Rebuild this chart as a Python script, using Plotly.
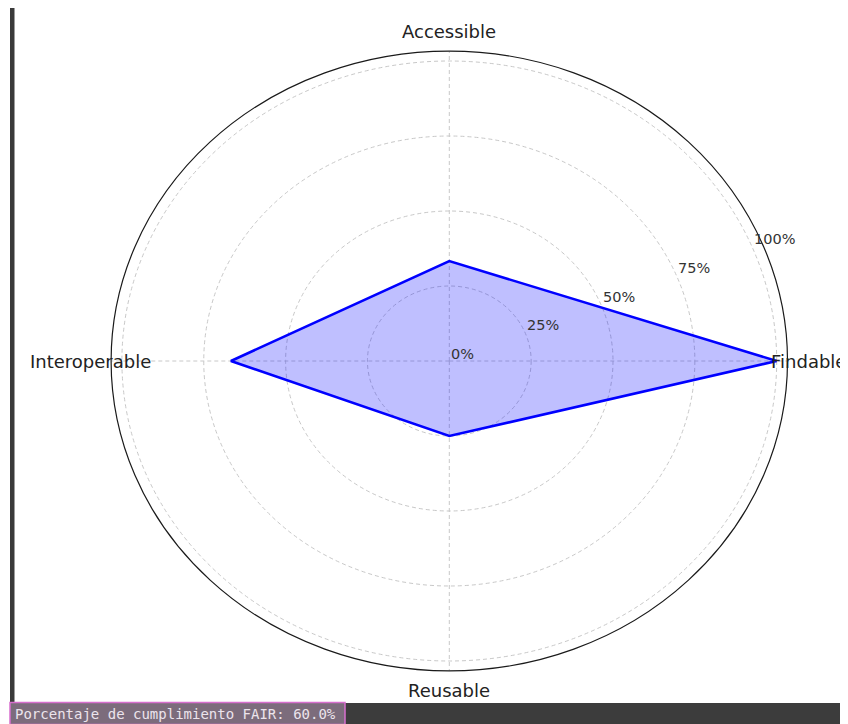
import math
import plotly.graph_objects as go

# ---- data ----
categories = ["Findable", "Accessible", "Interoperable", "Reusable"]
values = [100, 33.3, 66.7, 25]
radial_ticks = [0, 25, 50, 75, 100]
radial_tick_labels = ["0%", "25%", "50%", "75%", "100%"]
footer_text = "Porcentaje de cumplimiento FAIR: 60.0%"

# ---- layout constants ----
W, H = 848, 724
OFF = 8  # page body margin of the browser
R_MAX = 103.3
R_LABEL = 109.7
RLABEL_ANGLE = 22.5

n = len(categories)
angles = [360.0 * i / n for i in range(n)]


def pol(r, deg):
    t = math.radians(deg)
    return r * math.cos(t), r * math.sin(t)


def px(x):
    return (x - OFF) / W


def py(y):
    return 1 - (y - OFF) / H


xs, ys = [], []
for v, a in zip(values, angles):
    x, y = pol(v, a)
    xs.append(x)
    ys.append(y)
xs.append(xs[0])
ys.append(ys[0])

fig = go.Figure()
fig.add_trace(go.Scatter(
    x=xs, y=ys, mode="lines", fill="toself",
    fillcolor="rgba(0,0,255,0.25)",
    line=dict(color="#0000ff", width=2.6),
    hoverinfo="skip", showlegend=False,
))

shapes = []
grid_style = dict(color="#c8c8c8", width=1, dash="4px,3px")
for r in radial_ticks[1:]:
    shapes.append(dict(type="circle", xref="x", yref="y", x0=-r, x1=r, y0=-r, y1=r,
                       line=grid_style, layer="below"))
for a in angles:
    x, y = pol(R_MAX, a)
    shapes.append(dict(type="line", xref="x", yref="y", x0=0, y0=0, x1=x, y1=y,
                       line=grid_style, layer="below"))
shapes.append(dict(type="circle", xref="x", yref="y", x0=-R_MAX, x1=R_MAX, y0=-R_MAX, y1=R_MAX,
                   line=dict(color="#1a1a1a", width=1.2), layer="above"))

# window chrome: left bar, bottom bar and output box
shapes.append(dict(type="rect", xref="paper", yref="paper",
                   x0=px(10), x1=px(14.5), y0=py(703), y1=1.0,
                   fillcolor="#3a3a3a", line=dict(width=0), layer="above"))
shapes.append(dict(type="rect", xref="paper", yref="paper",
                   x0=px(345), x1=1, y0=0, y1=py(703),
                   fillcolor="#3c3c3c", line=dict(width=0), layer="above"))
shapes.append(dict(type="rect", xref="paper", yref="paper",
                   x0=px(10), x1=px(345), y0=py(724.5), y1=py(702.5),
                   fillcolor="#7c6c7c", line=dict(color="#d76fce", width=1.5), layer="above"))

annotations = []
for c, a in zip(categories, angles):
    x, y = pol(R_LABEL, a)
    annotations.append(dict(x=x, y=y, xref="x", yref="y", text=c, showarrow=False,
                            xanchor="center", yanchor="middle",
                            font=dict(family="DejaVu Sans", size=18, color="#222222")))
for r, lab in zip(radial_ticks, radial_tick_labels):
    x, y = pol(r, RLABEL_ANGLE)
    annotations.append(dict(x=x, y=y, xref="x", yref="y", text=lab, showarrow=False,
                            xanchor="left", yanchor="bottom", yshift=-3,
                            font=dict(family="DejaVu Sans", size=14.5, color="#333333")))
annotations.append(dict(x=px(13), y=py(713.5), xref="paper", yref="paper",
                        text=footer_text, showarrow=False,
                        xanchor="left", yanchor="middle",
                        font=dict(family="DejaVu Sans Mono", size=14, color="#ece4ec")))

# pixel mapping (screen pixels): centre at (449.3, 361); 3.274 px/unit horizontally, 3.0 vertically
cx, cy, sx, sy = 449.3 - OFF, 361.0 - OFF, 3.274, 3.0
xr = [-cx / sx, (W - cx) / sx]
yr = [-(H - cy) / sy, cy / sy]

fig.update_layout(
    width=W, height=H,
    margin=dict(l=0, r=0, t=0, b=0, pad=0),
    paper_bgcolor="white", plot_bgcolor="white",
    xaxis=dict(range=xr, visible=False, fixedrange=True),
    yaxis=dict(range=yr, visible=False, fixedrange=True),
    shapes=shapes, annotations=annotations,
    showlegend=False,
)

fig.write_html("out.html")
